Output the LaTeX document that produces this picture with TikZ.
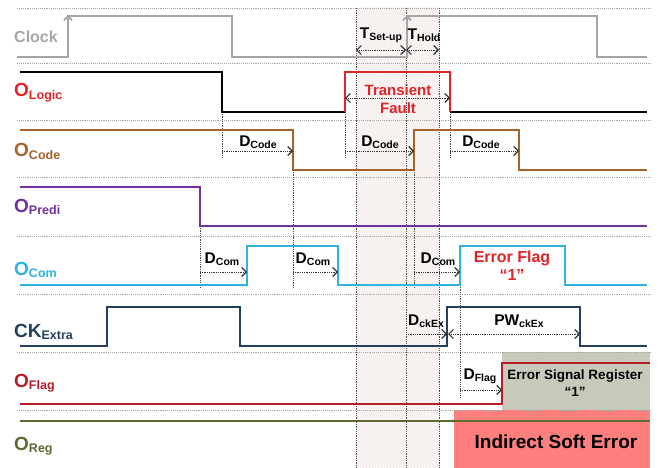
\documentclass[tikz,border=0pt]{standalone}
\usepackage{fontspec}
\setmainfont{Liberation Sans}
\usetikzlibrary{arrows.meta,patterns}
\definecolor{clkgray}{HTML}{A6A6A6}
\definecolor{logicred}{HTML}{E02428}
\definecolor{codebrown}{HTML}{A5632A}
\definecolor{predipurple}{HTML}{7030A0}
\definecolor{comcyan}{HTML}{2DB4E2}
\definecolor{cknavy}{HTML}{243F60}
\definecolor{flagred}{HTML}{B81C28}
\definecolor{regolive}{HTML}{5E6A32}
\definecolor{regbox}{HTML}{C7CABB}
\definecolor{softpink}{HTML}{FF7F7F}
\definecolor{winfill}{HTML}{FCF9F8}
\definecolor{winhatch}{HTML}{F0E4E1}
\newcommand{\signame}[2]{{\fontsize{19}{19}\selectfont #1}\raisebox{-0.45ex}{\fontsize{12.5}{12.5}\selectfont #2}}
\newcommand{\dname}[2]{{\fontsize{15.5}{15.5}\selectfont #1}\raisebox{-0.4ex}{\fontsize{10.5}{10.5}\selectfont #2}}

\begin{document}
\begin{tikzpicture}[x=1pt,y=-1pt,font=\bfseries,
    wave/.style={line width=1.8pt},
    sep/.style={gray!70,line width=0.9pt,densely dotted},
    guide/.style={black!70,line width=0.8pt,densely dotted},
    dim/.style={black!80,line width=0.8pt,densely dotted,-{Straight Barb[length=4.5pt,width=9pt,line width=1.1pt]}},
    dimboth/.style={dim,{Straight Barb[length=4.5pt,width=9pt,line width=1.1pt]}-{Straight Barb[length=4.5pt,width=9pt,line width=1.1pt]}},
    siglabel/.style={anchor=base west,inner sep=0pt}]
\useasboundingbox (0,0) rectangle (667,468);

% boxes and window
\fill[regbox] (502,352) rectangle (650,410);
\fill[softpink] (454,410) rectangle (650,468);
\fill[winfill] (356,8) rectangle (439,468);
\fill[pattern=north east lines,pattern color=winhatch] (356,8) rectangle (439,468);

% separators
\foreach \y in {8,63,120,177,236,294,352,410}
  \draw[sep] (17,\y) -- (650,\y);

% guide lines
\foreach \x in {356,406,439}
  \draw[guide] (\x,8) -- (\x,468);
\draw[guide] (222,112) -- (222,158);
\draw[guide] (345,112) -- (345,158);
\draw[guide] (450,112) -- (450,158);
\draw[guide] (293,170) -- (293,288);
\draw[guide] (200,226) -- (200,288);
\draw[guide] (414,170) -- (414,288);
\draw[guide] (460,285) -- (460,397);

% labels
\node[siglabel,text=clkgray] (clk) at (14,43) {\fontsize{16}{16}\selectfont Clock};
\node[siglabel,text=logicred] (ologic) at (14,97) {\signame{O}{Logic}};
\node[siglabel,text=codebrown] (ocode) at (14,157) {\signame{O}{Code}};
\node[siglabel,text=predipurple] (opredi) at (14,212) {\signame{O}{Predi}};
\node[siglabel,text=comcyan] (ocom) at (14,275) {\signame{O}{Com}};
\node[siglabel,text=cknavy] (ckextra) at (14,337) {\signame{CK}{Extra}};
\node[siglabel,text=flagred] (oflag) at (14,387) {\signame{O}{Flag}};
\node[siglabel,text=regolive] (oreg) at (14,450) {\signame{O}{Reg}};

% waveforms
\draw[wave,clkgray] (17,57) -- (68,57) -- (68,16) -- (232,16) -- (232,57) -- (407,57) -- (407,16) -- (597,16) -- (597,57) -- (647,57);
\draw[wave,clkgray,-{Straight Barb[length=4pt,width=8pt]}] (68,30) -- (68,15);
\draw[wave,clkgray,-{Straight Barb[length=4pt,width=8pt]}] (407,30) -- (407,15);
\draw[wave,black] (20,72) -- (222,72) -- (222,112) -- (345,112);
\draw[wave,black] (450,112) -- (647,112);
\draw[wave,logicred] (345,112) -- (345,72) -- (450,72) -- (450,112);
\draw[wave,codebrown] (20,130) -- (293,130) -- (293,170) -- (414,170) -- (414,130) -- (519,130) -- (519,170) -- (647,170);
\draw[wave,predipurple] (20,187) -- (200,187) -- (200,226) -- (647,226);
\draw[wave,comcyan] (20,285) -- (247,285) -- (247,246) -- (338,246) -- (338,285) -- (460,285) -- (460,246) -- (565,246) -- (565,285) -- (647,285);
\draw[wave,cknavy] (20,346) -- (107,346) -- (107,307) -- (240,307) -- (240,346) -- (447,346) -- (447,307) -- (580,307) -- (580,346) -- (647,346);
\draw[wave,flagred] (20,404) -- (502,404) -- (502,363) -- (650,363);
\draw[wave,regolive] (20,421) -- (650,421);

% timing arrows
\draw[dimboth] (356,50) -- (406,50);
\draw[dimboth] (406,50) -- (439,50);
\node (tsetup) at (381,35) {\dname{T}{Set-up}};
\node (thold) at (424,35) {\dname{T}{Hold}};
\draw[dimboth] (345,98) -- (450,98);
\node[text=logicred,align=center,font=\bfseries\fontsize{15}{18}\selectfont] (fault) at (398,99) {Transient\\Fault};
\draw[dim] (222,151) -- (293,151);
\draw[dim] (345,151) -- (414,151);
\draw[dim] (450,151) -- (519,151);
\node (dcode1) at (258,142) {\dname{D}{Code}};
\node (dcode2) at (380,142) {\dname{D}{Code}};
\node (dcode3) at (481,142) {\dname{D}{Code}};
\draw[dim] (200,272) -- (247,272);
\draw[dim] (293,272) -- (338,272);
\draw[dim] (414,272) -- (460,272);
\node (dcom1) at (222,259) {\dname{D}{Com}};
\node (dcom2) at (313,259) {\dname{D}{Com}};
\node (dcom3) at (438,259) {\dname{D}{Com}};
\node[text=logicred,align=center,font=\bfseries\fontsize{16}{18}\selectfont] (eflag) at (512,266) {Error Flag\\“1”};
\draw[dim] (406,334) -- (447,334);
\draw[dimboth] (448,334) -- (580,334);
\node (dckex) at (426,321) {\dname{D}{ckEx}};
\node (pwckex) at (519,321) {\dname{PW}{ckEx}};
\draw[dim] (460,390) -- (502,390);
\node (dflag) at (480,376) {\dname{D}{Flag}};
\node[align=center,font=\bfseries\fontsize{13.5}{17}\selectfont] (esr) at (575,383) {Error Signal Register\\“1”};
\node[font=\bfseries\fontsize{19}{19}\selectfont] (ise) at (556,442) {Indirect Soft Error};
\end{tikzpicture}
\end{document}
